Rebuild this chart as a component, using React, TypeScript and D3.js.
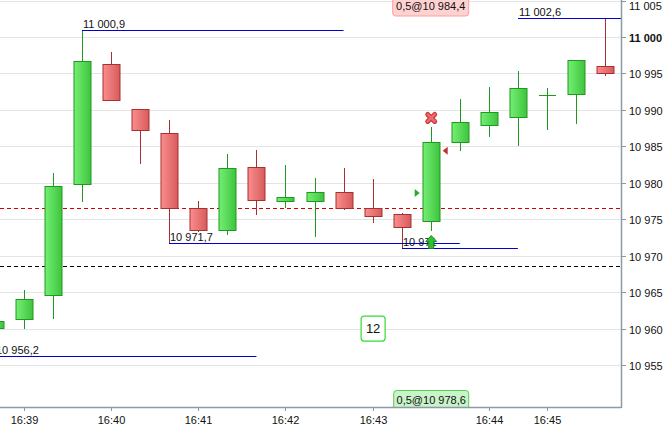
import React from "react";
import * as d3 from "d3";

const W = 668;
const H = 427;

// candle data (one candle per index)
const opens = [10960.1, 10961.3, 10964.6, 10979.8, 10996.3, 10990.1, 10986.9, 10976.6, 10973.5, 10982.1, 10977.5, 10977.5, 10978.7, 10976.6, 10975.7, 10974.7, 10985.6, 10987.9, 10989.0, 10992.0, 10992.2, 10996.0];
const closes = [10961.0, 10964.0, 10979.5, 10996.7, 10991.3, 10987.3, 10976.5, 10973.5, 10982.0, 10977.6, 10978.0, 10978.7, 10976.5, 10975.4, 10974.0, 10985.6, 10988.3, 10989.7, 10993.0, 10992.0, 10996.9, 10995.0];
const highs = [10961.2, 10965.3, 10981.3, 11000.9, 10997.9, 10990.1, 10988.6, 10977.5, 10984.0, 10984.5, 10982.4, 10980.7, 10982.0, 10980.5, 10975.8, 10987.6, 10991.5, 10993.1, 10995.3, 10993.0, 10996.9, 11002.6];
const lows = [10956.2, 10959.9, 10961.3, 10977.3, 10991.3, 10982.6, 10971.7, 10973.3, 10972.9, 10975.6, 10976.6, 10972.5, 10976.3, 10974.5, 10971.0, 10973.4, 10984.3, 10986.3, 10985.0, 10987.3, 10988.0, 10994.6];

// time axis
const timeTickIndex = [1, 4, 7, 10, 13, 17, 19];
const timeTickLabels = ["16:39", "16:40", "16:41", "16:42", "16:43", "16:44", "16:45"];

// price axis
const priceTicks = [10955, 10960, 10965, 10970, 10975, 10980, 10985, 10990, 10995, 11000, 11005];

// support / resistance levels
const levelValues = [11000.9, 11002.6, 10971.7, 10971.0, 10956.2];
const levelStart = [3, 18, 6, 14, 0];
const levelEnd = [12, 21.6, 16, 18, 9];

// dashed reference lines
const redDashValue = 10976.6;
const blackDashValue = 10968.6;

// orders
const orderIndex = 15;
const sellOrderText = "0,5@10 984,4";
const sellOrderPrice = 10984.4;
const buyOrderText = "0,5@10 978,6";
const buyOrderPrice = 10978.6;
const exitMarkPrice = 10988.9;
const entryArrowPrice = 10971.0;
const countLabel = "12";
const countIndex = 13;
const countPrice = 10960;

const locale = d3.formatLocale({ decimal: ",", thousands: " ", grouping: [3], currency: ["", ""] });
const fmtInt = locale.format(",.0f");
const fmtLevel = (v: number) => (Math.abs(v - Math.round(v)) < 1e-6 ? fmtInt(v) : locale.format(",.1f")(v));

const PLOT_R = 621;
const PLOT_B = 407;

export default function App() {
  const x = d3.scaleLinear().domain([0, 21]).range([-5, 605]);
  const y = d3.scaleLinear().domain([10949.24, 11005.08]).range([PLOT_B, 0]);
  const bw = 17;
  const font = "'Liberation Sans', Arial, sans-serif";
  const axisColor = "#8b9aa3";

  const candles = opens.map((o, i) => ({ o, c: closes[i], h: highs[i], l: lows[i], i }));

  const ox = x(orderIndex);
  return (
    <svg width={W} height={H} style={{ position: "absolute", left: 0, top: 0, background: "#fff" }} fontFamily={font}>
      <defs>
        <linearGradient id="gUp" x1="0" x2="1" y1="0" y2="0">
          <stop offset="0" stopColor="#74ef74" />
          <stop offset="1" stopColor="#3ec43e" />
        </linearGradient>
        <linearGradient id="gDn" x1="0" x2="1" y1="0" y2="0">
          <stop offset="0" stopColor="#fb8e8e" />
          <stop offset="1" stopColor="#d65b5b" />
        </linearGradient>
        <clipPath id="plot">
          <rect x={0} y={0} width={PLOT_R} height={PLOT_B} />
        </clipPath>
      </defs>

      {/* grid */}
      {priceTicks.map((t) => (
        <line key={"g" + t} x1={0} x2={PLOT_R} y1={Math.round(y(t)) + 0.5} y2={Math.round(y(t)) + 0.5} stroke="#e4e4e4" strokeWidth={1} />
      ))}

      <g clipPath="url(#plot)">
        {/* dashed lines */}
        <line x1={0} x2={PLOT_R} y1={Math.round(y(redDashValue)) + 0.5} y2={Math.round(y(redDashValue)) + 0.5} stroke="#d40000" strokeDasharray="4,3" />
        <line x1={0} x2={PLOT_R} y1={Math.round(y(blackDashValue)) + 0.5} y2={Math.round(y(blackDashValue)) + 0.5} stroke="#000" strokeDasharray="4,3" />

        {/* candles */}
        {candles.map((d) => {
          const up = d.c >= d.o;
          const cx = Math.round(x(d.i)) + 0.5;
          const stroke = up ? "#1e9a1e" : "#a83030";
          const top = Math.round(y(Math.max(d.o, d.c))) + 0.5;
          const bot = Math.round(y(Math.min(d.o, d.c))) + 0.5;
          return (
            <g key={"c" + d.i}>
              <line x1={cx} x2={cx} y1={Math.round(y(d.h))} y2={Math.round(y(d.l))} stroke={stroke} strokeWidth={1} />
              {bot - top < 1 ? (
                <line x1={cx - bw / 2} x2={cx + bw / 2} y1={top} y2={top} stroke={stroke} strokeWidth={1} />
              ) : (
                <rect x={cx - bw / 2} y={top} width={bw} height={bot - top} fill={up ? "url(#gUp)" : "url(#gDn)"} stroke={stroke} strokeWidth={1} />
              )}
            </g>
          );
        })}

        {/* levels */}
        {levelValues.map((v, k) => {
          const ly = Math.round(y(v)) + 0.5;
          const x1 = Math.round(x(levelStart[k]));
          return (
            <g key={"l" + k}>
              <line x1={x1} x2={Math.min(PLOT_R, x(levelEnd[k]))} y1={ly} y2={ly} stroke="#0000d0" strokeWidth={1} />
              <text x={x1 + 1} y={ly - 2.5} fontSize={11} fill="#111">{fmtLevel(v)}</text>
            </g>
          );
        })}

        {/* order markers */}
        <path d={`M${ox - 16},${y(buyOrderPrice) - 4} L${ox - 11},${y(buyOrderPrice)} L${ox - 16},${y(buyOrderPrice) + 4} Z`} fill="#2aa82a" />
        <path d={`M${ox + 17},${y(sellOrderPrice) - 4} L${ox + 12},${y(sellOrderPrice)} L${ox + 17},${y(sellOrderPrice) + 4} Z`} fill="#c03030" />
        <g transform={`translate(${ox + 0.5},${y(exitMarkPrice)})`}>
          <path d="M-3.5,-3.5 L3.5,3.5 M3.5,-3.5 L-3.5,3.5" stroke="#c83c3c" strokeWidth={5} strokeLinecap="round" />
          <path d="M-3.5,-3.5 L3.5,3.5 M3.5,-3.5 L-3.5,3.5" stroke="#ef6a6a" strokeWidth={2.5} strokeLinecap="round" />
        </g>
        <g transform={`translate(${ox + 0.5},${Math.round(y(entryArrowPrice)) + 0.5})`}>
          <path d="M-2.5,0 L-2.5,-7 L-5.5,-7 L0,-13 L5.5,-7 L2.5,-7 L2.5,0 Z" fill="#2fc02f" stroke="#1e8a1e" strokeWidth={1} />
        </g>

        {/* order labels */}
        <g>
          <rect x={ox - 38} y={-4} width={76} height={20} rx={3} fill="#ffd2d2" stroke="#ff9e9e" />
          <text x={ox} y={10} textAnchor="middle" fontSize={11} fill="#111">{sellOrderText}</text>
        </g>
        <g>
          <rect x={ox - 37} y={390.5} width={75} height={20} rx={3} fill="#c9f3c9" stroke="#57cc57" />
          <text x={ox + 0.5} y={404} textAnchor="middle" fontSize={11} fill="#111">{buyOrderText}</text>
        </g>
        <g>
          <rect x={x(countIndex) - 11.5} y={y(countPrice) - 12.5} width={24} height={25} rx={3} fill="#fff" stroke="#33dd33" strokeWidth={1.2} />
          <text x={x(countIndex) + 0.5} y={y(countPrice) + 4.5} textAnchor="middle" fontSize={13} fill="#111">{countLabel}</text>
        </g>
      </g>

      {/* axes */}
      <line x1={0} x2={PLOT_R} y1={PLOT_B + 0.5} y2={PLOT_B + 0.5} stroke={axisColor} strokeWidth={1.5} />
      <line x1={PLOT_R + 0.5} x2={PLOT_R + 0.5} y1={0} y2={PLOT_B + 1} stroke={axisColor} strokeWidth={1.5} />
      {priceTicks.map((t) => {
        const ty = Math.round(y(t)) + 0.5;
        return (
          <g key={"p" + t}>
            <line x1={PLOT_R} x2={PLOT_R + 5} y1={ty} y2={ty} stroke={axisColor} />
            <text x={PLOT_R + 8} y={Math.max(10, ty + 4)} fontSize={11} fontWeight={t === 11000 ? "bold" : "normal"} fill="#111">{fmtInt(t)}</text>
          </g>
        );
      })}
      {timeTickIndex.map((ti, k) => {
        const tx = Math.round(x(ti)) + 0.5;
        return (
          <g key={"t" + k}>
            <line x1={tx} x2={tx} y1={PLOT_B} y2={PLOT_B + 4} stroke={axisColor} />
            <text x={tx} y={PLOT_B + 17} textAnchor="middle" fontSize={11} fill="#111">{timeTickLabels[k]}</text>
          </g>
        );
      })}
    </svg>
  );
}
